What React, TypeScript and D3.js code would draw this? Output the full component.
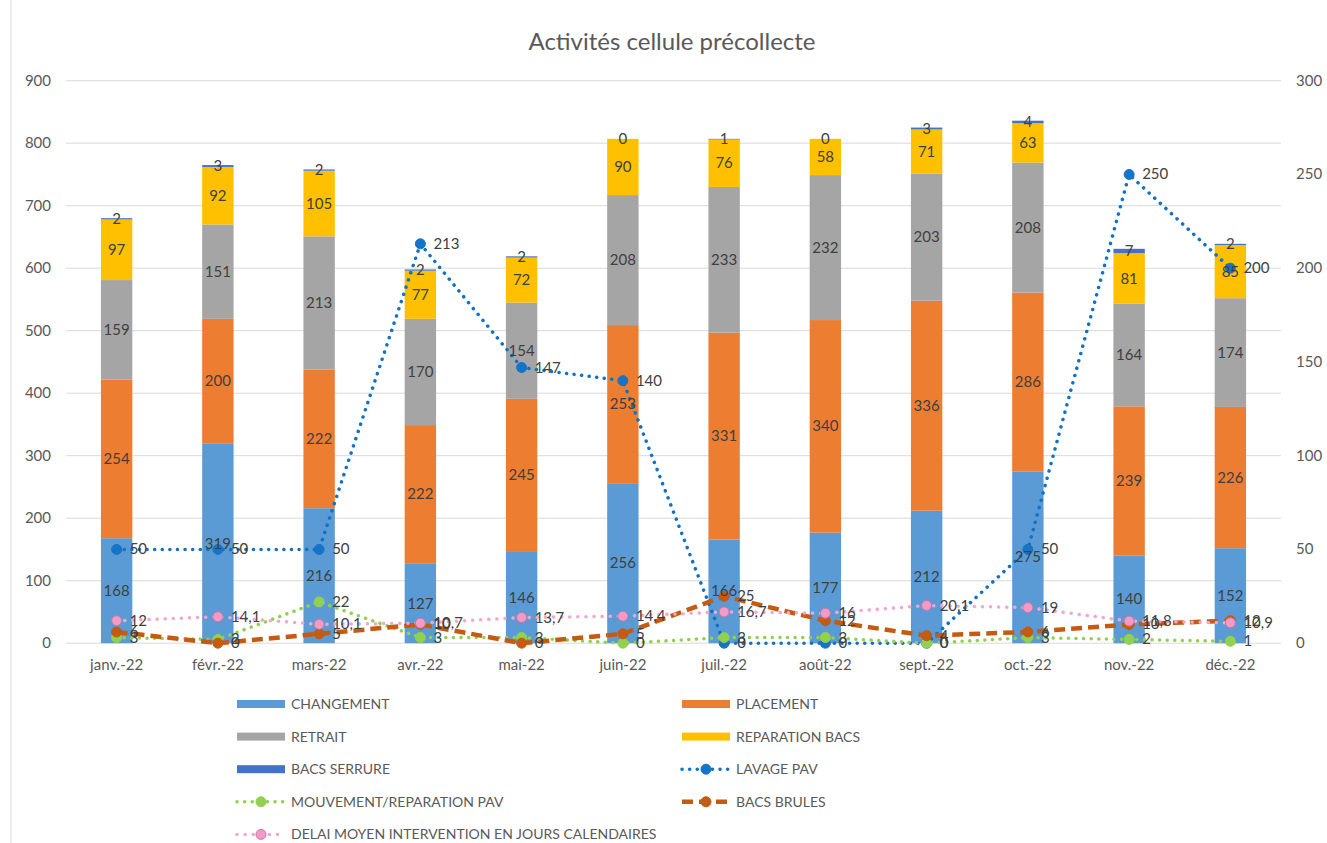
import React from "react";
import * as d3 from "d3";

const months = ["janv.-22", "févr.-22", "mars-22", "avr.-22", "mai-22", "juin-22", "juil.-22", "août-22", "sept.-22", "oct.-22", "nov.-22", "déc.-22"];

const changement = [168, 319, 216, 127, 146, 256, 166, 177, 212, 275, 140, 152];
const placement = [254, 200, 222, 222, 245, 253, 331, 340, 336, 286, 239, 226];
const retrait = [159, 151, 213, 170, 154, 208, 233, 232, 203, 208, 164, 174];
const reparationBacs = [97, 92, 105, 77, 72, 90, 76, 58, 71, 63, 81, 85];
const bacsSerrure = [2, 3, 2, 2, 2, 0, 1, 0, 3, 4, 7, 2];

const lavagePav = [50, 50, 50, 213, 147, 140, 0, 0, 0, 50, 250, 200];
const mouvementPav = [3, 2, 22, 3, 3, 0, 3, 3, 0, 3, 2, 1];
const bacsBrules = [6, 0, 5, 10, 0, 5, 25, 12, 4, 6, 10, 12];
const delaiMoyen = [12, 14.1, 10.1, 10.7, 13.7, 14.4, 16.7, 16, 20.1, 19, 11.8, 10.9];

const leftTicks = [0, 100, 200, 300, 400, 500, 600, 700, 800, 900];
const rightTicks = [0, 50, 100, 150, 200, 250, 300];

const barSeries = [
  { key: "CHANGEMENT", values: changement, color: "#5B9BD5" },
  { key: "PLACEMENT", values: placement, color: "#ED7D31" },
  { key: "RETRAIT", values: retrait, color: "#A5A5A5" },
  { key: "REPARATION BACS", values: reparationBacs, color: "#FFC000" },
  { key: "BACS SERRURE", values: bacsSerrure, color: "#4472C4" },
];

const lineSeries = [
  { key: "LAVAGE PAV", values: lavagePav, color: "#0F72C4", marker: "#1673C8", mstroke: "#1673C8", dash: "0.1 7.5", width: 3.5, cap: "round" },
  { key: "MOUVEMENT/REPARATION PAV", values: mouvementPav, color: "#92D050", marker: "#92D050", mstroke: "#92D050", dash: "0.1 7.5", width: 3.5, cap: "round" },
  { key: "BACS BRULES", values: bacsBrules, color: "#C55A11", marker: "#C55A11", mstroke: "#C55A11", dash: "11 6", width: 4.5, cap: "butt" },
  { key: "DELAI MOYEN INTERVENTION EN JOURS CALENDAIRES", values: delaiMoyen, color: "#F4A6CF", marker: "#F29AC8", mstroke: "#C678A4", dash: "0.1 8", width: 3.5, cap: "round" },
];

const W = 1327;
const H = 843;
const FONT = "Lato, 'Open Sans', sans-serif";

const fmt = (v: number) => String(v).replace(".", ",");

export default function App() {
  const x = d3.scaleBand<string>().domain(months).range([66, 1281]).paddingInner(0.69).paddingOuter(0.345);
  const yL = d3.scaleLinear().domain([0, 900]).range([643.2, 80.7]);
  const yR = d3.scaleLinear().domain([0, 300]).range([643.2, 80.7]);

  const table = months.map((m, i) => {
    const row: any = { month: m };
    barSeries.forEach((s) => (row[s.key] = s.values[i]));
    return row;
  });
  const stack = d3.stack<any>().keys(barSeries.map((s) => s.key));
  const stacked = stack(table);

  const cx = (m: string) => (x(m) as number) + x.bandwidth() / 2;

  const legendItems = [
    { s: barSeries[0], type: "bar", col: 0, row: 0 },
    { s: barSeries[1], type: "bar", col: 1, row: 0 },
    { s: barSeries[2], type: "bar", col: 0, row: 1 },
    { s: barSeries[3], type: "bar", col: 1, row: 1 },
    { s: barSeries[4], type: "bar", col: 0, row: 2 },
    { s: lineSeries[0], type: "line", col: 1, row: 2 },
    { s: lineSeries[1], type: "line", col: 0, row: 3 },
    { s: lineSeries[2], type: "line", col: 1, row: 3 },
    { s: lineSeries[3], type: "line", col: 0, row: 4 },
  ];
  const legX = [237, 682];
  const legY = (r: number) => 704 + r * 32.6;

  return (
    <div style={{ position: "absolute", left: 0, top: 0 }}>
      <svg width={W} height={H} style={{ display: "block", background: "#fff" }} fontFamily={FONT}>
        <line x1={11} x2={11} y1={0} y2={H} stroke="#D9D9D9" strokeWidth={1} />
        <text x={672} y={50} textAnchor="middle" fontSize={24} fill="#595959">
          Activités cellule précollecte
        </text>

        {leftTicks.map((t) => (
          <g key={"g" + t}>
            <line x1={66} x2={1281} y1={yL(t)} y2={yL(t)} stroke="#D9D9D9" strokeWidth={1} />
            <text x={51} y={yL(t) + 5} textAnchor="end" fontSize={15} fill="#595959">
              {t}
            </text>
          </g>
        ))}
        {rightTicks.map((t) => (
          <text key={"r" + t} x={1296} y={yR(t) + 5} textAnchor="start" fontSize={15} fill="#595959">
            {t}
          </text>
        ))}
        {months.map((m) => (
          <text key={"x" + m} x={cx(m)} y={670} textAnchor="middle" fontSize={15} fill="#595959">
            {m}
          </text>
        ))}

        {stacked.map((layer, li) => (
          <g key={"b" + li} fill={barSeries[li].color}>
            {layer.map((d, i) => (
              <rect
                key={i}
                x={x(months[i])}
                width={x.bandwidth()}
                y={yL(d[1])}
                height={Math.max(0, yL(d[0]) - yL(d[1]))}
              />
            ))}
          </g>
        ))}

        {lineSeries.map((s) => {
          const line = d3
            .line<number>()
            .x((_, i) => cx(months[i]))
            .y((v) => yR(v));
          return (
            <g key={"l" + s.key}>
              <path d={line(s.values) || ""} fill="none" stroke={s.color} strokeWidth={s.width} strokeDasharray={s.dash} strokeLinecap={s.cap as any} />
              {s.values.map((v, i) => (
                <circle key={i} cx={cx(months[i])} cy={yR(v)} r={5} fill={s.marker} stroke={s.mstroke} strokeWidth={1} />
              ))}
            </g>
          );
        })}

        {stacked.map((layer, li) => (
          <g key={"bl" + li}>
            {layer.map((d, i) => (
              <text
                key={i}
                x={cx(months[i])}
                y={(yL(d[0]) + yL(d[1])) / 2 + 5}
                textAnchor="middle"
                fontSize={15}
                fill="#404040"
              >
                {barSeries[li].values[i]}
              </text>
            ))}
          </g>
        ))}

        {lineSeries.map((s) => (
          <g key={"ll" + s.key}>
            {s.values.map((v, i) => (
              <text key={i} x={cx(months[i]) + 13} y={yR(v) + 5} textAnchor="start" fontSize={15} fill="#404040">
                {fmt(v)}
              </text>
            ))}
          </g>
        ))}

        {legendItems.map((it, k) => {
          const lx = legX[it.col];
          const ly = legY(it.row);
          const s: any = it.s;
          return (
            <g key={"leg" + k}>
              {it.type === "bar" ? (
                <rect x={lx} y={ly - 4} width={48} height={8} fill={s.color} />
              ) : (
                <g>
                  <line x1={lx} x2={lx + 48} y1={ly} y2={ly} stroke={s.color} strokeWidth={s.width} strokeDasharray={s.dash} strokeLinecap={s.cap} />
                  <circle cx={lx + 24} cy={ly} r={5} fill={s.marker} stroke={s.mstroke} strokeWidth={1} />
                </g>
              )}
              <text x={lx + 54} y={ly + 5} fontSize={14} fill="#595959">
                {s.key}
              </text>
            </g>
          );
        })}
      </svg>
    </div>
  );
}
